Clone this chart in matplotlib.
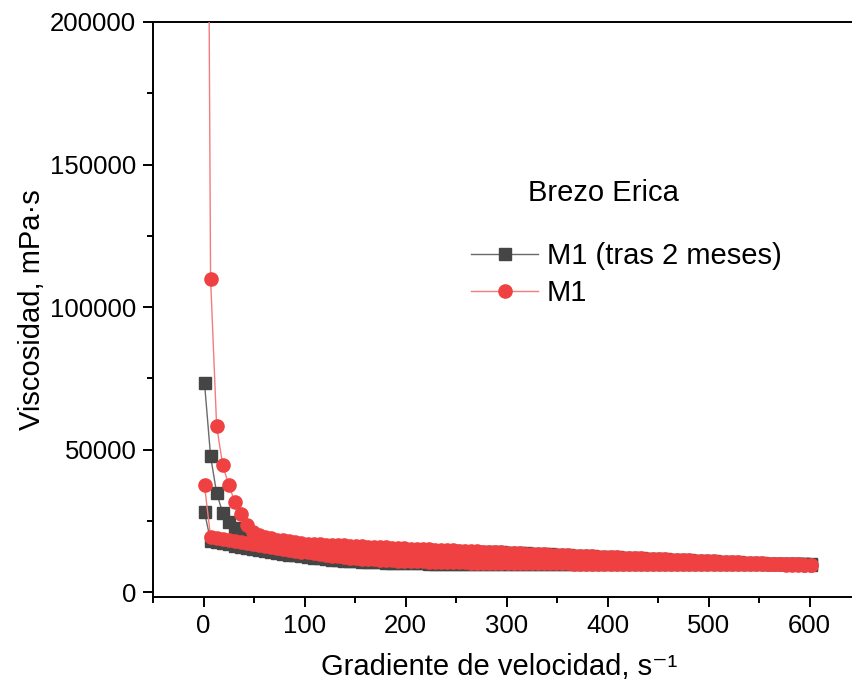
import matplotlib
matplotlib.use("Agg")
import matplotlib.pyplot as plt
from matplotlib.ticker import MultipleLocator
from matplotlib.lines import Line2D

plt.rcParams['font.family'] = ['Liberation Sans', 'DejaVu Sans']

# shear-rate grid (s^-1) of the sweep
shear_rate = [1, 7, 13, 19, 25, 31, 37, 43, 49, 55,
              61, 67, 73, 79, 85, 91, 97, 103, 109, 115,
              121, 127, 133, 139, 145, 151, 157, 163, 169, 175,
              181, 187, 193, 199, 205, 211, 217, 223, 229, 235,
              241, 247, 253, 259, 265, 271, 277, 283, 289, 295,
              301, 307, 313, 319, 325, 331, 337, 343, 349, 355,
              361, 367, 373, 379, 385, 391, 397, 403, 409, 415,
              421, 427, 433, 439, 445, 451, 457, 463, 469, 475,
              481, 487, 493, 499, 505, 511, 517, 523, 529, 535,
              541, 547, 553, 559, 565, 571, 577, 583, 589, 595,
              601]

# M1 (red) viscosity, mPa·s — up sweep (listed at ascending shear rate)
m1_up = [500000, 110000, 58200, 44600, 37500, 31700, 27400, 23500, 21000, 19900,
         19200, 18800, 18400, 18100, 17800, 17500, 17200, 16950, 16850, 16750,
         16650, 16550, 16450, 16350, 16250, 16150, 16050, 15950, 15850, 15750,
         15650, 15550, 15450, 15350, 15250, 15150, 15050, 14950, 14860, 14770,
         14680, 14590, 14500, 14410, 14320, 14230, 14140, 14050, 13960, 13870,
         13780, 13690, 13600, 13510, 13420, 13330, 13240, 13150, 13060, 12970,
         12880, 12790, 12700, 12610, 12520, 12430, 12340, 12250, 12160, 12070,
         11980, 11890, 11800, 11710, 11620, 11530, 11440, 11350, 11260, 11170,
         11080, 10990, 10900, 10810, 10720, 10630, 10540, 10450, 10360, 10270,
         10180, 10100, 10020, 9950, 9880, 9820, 9760, 9710, 9670, 9640,
         9620]
# M1 (red) — down sweep (listed at ascending shear rate)
m1_down = [37500, 19300, 18950, 18600, 18250, 17900, 17550, 17200, 16850, 16500,
           16150, 15800, 15450, 15100, 14800, 14500, 14200, 13900, 13600, 13300,
           13020, 12750, 12500, 12270, 12060, 11870, 11700, 11550, 11420, 11300,
           11190, 11090, 11000, 10920, 10850, 10780, 10720, 10660, 10610, 10560,
           10510, 10470, 10430, 10390, 10350, 10320, 10290, 10260, 10230, 10200,
           10180, 10160, 10140, 10120, 10100, 10080, 10060, 10040, 10030, 10020,
           10010, 10000, 9990, 9980, 9970, 9960, 9950, 9940, 9930, 9920,
           9910, 9900, 9890, 9880, 9870, 9860, 9850, 9840, 9830, 9820,
           9810, 9800, 9790, 9780, 9770, 9760, 9750, 9740, 9730, 9720,
           9710, 9700, 9690, 9680, 9670, 9660, 9650, 9640, 9630, 9620,
           9620]

# M1 (tras 2 meses) (black) — up sweep
m1b_up = [73300, 47700, 34700, 27800, 24500, 22400, 20800, 19600, 18700, 18000,
          17400, 16900, 16500, 16150, 15850, 15600, 15400, 15250, 15210, 15170,
          15130, 15090, 15050, 15010, 14970, 14930, 14890, 14850, 14810, 14770,
          14730, 14690, 14650, 14610, 14570, 14530, 14490, 14450, 14410, 14370,
          14330, 14280, 14230, 14180, 14130, 14080, 14030, 13990, 13950, 13900,
          13800, 13710, 13620, 13530, 13440, 13350, 13260, 13170, 13080, 12990,
          12900, 12810, 12720, 12630, 12540, 12450, 12360, 12270, 12180, 12090,
          12000, 11910, 11820, 11730, 11640, 11550, 11460, 11370, 11280, 11190,
          11100, 11010, 10920, 10830, 10740, 10650, 10560, 10470, 10380, 10290,
          10200, 10120, 10040, 9970, 9900, 9840, 9780, 9730, 9690, 9660,
          9640]
# M1 (tras 2 meses) (black) — down sweep
m1b_down = [28000, 18000, 17500, 17100, 16700, 16300, 15900, 15500, 15150, 14800,
            14450, 14100, 13770, 13450, 13150, 12850, 12570, 12300, 12050, 11820,
            11600, 11400, 11220, 11050, 10900, 10770, 10650, 10550, 10460, 10380,
            10310, 10250, 10200, 10150, 10100, 10060, 10020, 9990, 9960, 9930,
            9910, 9890, 9870, 9860, 9850, 9840, 9830, 9820, 9810, 9800,
            9795, 9790, 9785, 9780, 9775, 9770, 9765, 9760, 9755, 9750,
            9748, 9746, 9744, 9742, 9740, 9740, 9740, 9740, 9742, 9744,
            9746, 9748, 9750, 9752, 9754, 9756, 9758, 9760, 9762, 9764,
            9766, 9768, 9770, 9772, 9774, 9776, 9778, 9780, 9782, 9784,
            9786, 9788, 9790, 9792, 9795, 9798, 9802, 9806, 9712, 9716,
            9720]

series_labels = ["M1 (tras 2 meses)", "M1"]
legend_title = "Brezo Erica"

fig = plt.figure(figsize=(8.52, 6.86), dpi=100)
ax = fig.add_axes([153/852, 89/686, (860-153)/852, (597-22)/686])

blk_face = '#454545'
blk_line = '#6a6a6a'
red_face = '#EF4141'
red_line = '#F47C7C'

x_loop = shear_rate + shear_rate[::-1]
ax.plot(x_loop, m1b_up + m1b_down[::-1], color=blk_line, lw=1.0,
        marker='s', ms=8.0, mfc=blk_face, mec=blk_face, zorder=2)
ax.plot(x_loop, m1_up + m1_down[::-1], color=red_line, lw=1.0,
        marker='o', ms=9.5, mfc=red_face, mec=red_face, zorder=3)

ax.set_xlim(-50, 650)
ax.set_ylim(-1750, 200000)
ax.xaxis.set_minor_locator(MultipleLocator(50))
ax.yaxis.set_major_locator(MultipleLocator(50000))
ax.yaxis.set_minor_locator(MultipleLocator(25000))
ax.set_xticks([0, 100, 200, 300, 400, 500, 600])

for s in ['left', 'bottom', 'top']:
    ax.spines[s].set_linewidth(1.4)
ax.spines['right'].set_visible(False)
ax.tick_params(which='major', direction='out', length=7, width=1.4,
               labelsize=18.5, pad=5, right=False, top=False)
ax.tick_params(which='minor', direction='out', length=4, width=1.4,
               right=False, top=False)

ax.set_xlabel("Gradiente de velocidad, s\u207b\u00b9", fontsize=21, labelpad=7)
ax.xaxis.set_label_coords((499 - 153) / 707, -0.098)
ax.set_ylabel("Viscosidad, mPa·s", fontsize=21, labelpad=3)

handles = [Line2D([], [], color=blk_line, lw=1.0, marker='s', ms=8.0,
                  mfc=blk_face, mec=blk_face),
           Line2D([], [], color=red_line, lw=1.0, marker='o', ms=9.5,
                  mfc=red_face, mec=red_face)]
fig.text(603/852, 1 - 193/686, legend_title, fontsize=21, ha='center', va='center')
leg = ax.legend(handles, series_labels, loc='upper left',
                bbox_to_anchor=(471/852, 1 - 242/686), bbox_transform=fig.transFigure,
                frameon=False, fontsize=21, handlelength=2.3, handletextpad=0.3,
                labelspacing=0.3, borderpad=0, borderaxespad=0, numpoints=1)

fig.savefig("out.png", dpi=100)
